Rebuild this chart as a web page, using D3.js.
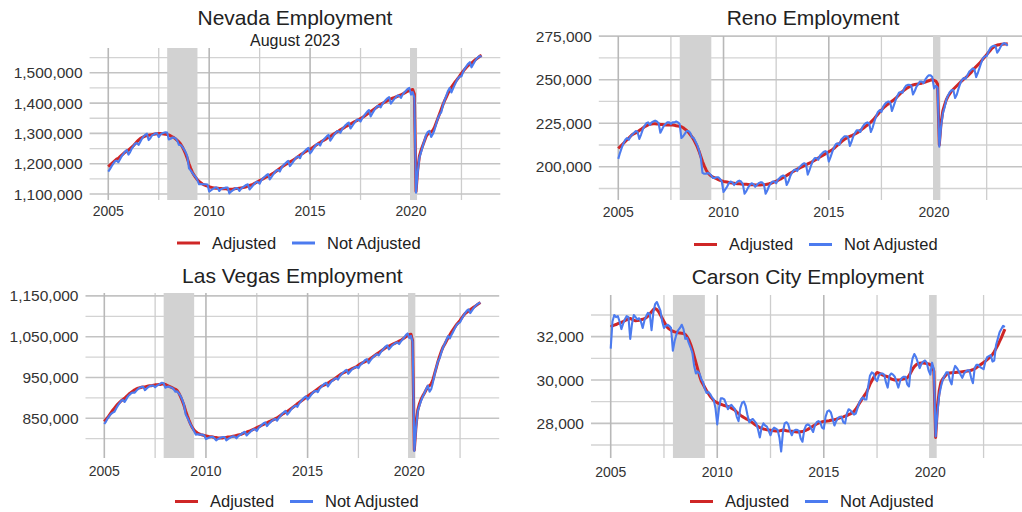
<!DOCTYPE html>
<html><head><meta charset="utf-8">
<script src="https://cdn.jsdelivr.net/npm/d3@7"></script>
<style>
body{margin:0;background:#fff}
svg{display:block}
text{font-family:"Liberation Sans",Arial,Helvetica,sans-serif}
</style>
</head><body>
<svg id="chart" width="1022" height="512"></svg>
<script>
// Monthly observations, Jan 2005 .. Jul 2023
const startYear = 2005;
const xTicks = [2005, 2010, 2015, 2020];
const xMinorTicks = [2007.5, 2012.5, 2017.5, 2022.5];
const recessions = [[2007.92, 2009.42], [2019.95, 2020.3]];
const seriesNames = ["Adjusted", "Not Adjusted"];

// Nevada (thousands of jobs)
const nevadaAdj = [
1190,1195,1200,1205,1210,1215,1218,1223,1228,1233,1238,1242,
1245,1250,1255,1260,1266,1272,1278,1283,1286,1289,1291,1293,
1294,1295,1296,1297,1298,1299,1300,1300,1299,1298,1297,1296,
1295,1292,1289,1286,1282,1277,1272,1265,1256,1245,1232,1217,
1200,1185,1172,1162,1154,1147,1141,1137,1133,1130,1128,1126,
1124,1122,1121,1120,1119,1119,1118,1118,1117,1117,1117,1116,
1116,1116,1116,1117,1118,1118,1119,1120,1121,1122,1124,1126,
1128,1130,1132,1135,1138,1141,1144,1147,1150,1153,1156,1159,
1162,1165,1168,1172,1176,1180,1184,1188,1192,1196,1199,1202,
1206,1209,1212,1216,1220,1224,1228,1232,1235,1239,1242,1245,
1248,1251,1255,1259,1263,1267,1270,1274,1277,1280,1284,1287,
1290,1294,1298,1301,1305,1308,1312,1315,1318,1322,1325,1328,
1331,1334,1337,1340,1343,1346,1349,1352,1356,1360,1364,1368,
1372,1376,1380,1384,1388,1392,1396,1399,1402,1405,1408,1411,
1414,1416,1418,1420,1422,1425,1427,1430,1433,1436,1439,1441,
1443,1445,1430,1108,1180,1225,1245,1260,1275,1290,1298,1302,
1305,1310,1320,1335,1350,1365,1380,1395,1408,1420,1432,1443,
1452,1460,1468,1475,1482,1490,1498,1505,1512,1518,1524,1528,
1532,1537,1542,1546,1550,1555,1558];
const nevadaNsa = [
1174,1182,1192,1200,1208,1210,1205,1215,1225,1232,1240,1245,
1230,1238,1250,1258,1266,1268,1262,1272,1282,1290,1296,1299,
1278,1284,1293,1296,1300,1300,1288,1296,1300,1302,1304,1303,
1280,1282,1286,1286,1284,1276,1262,1262,1256,1248,1238,1224,
1185,1178,1170,1162,1156,1146,1132,1133,1132,1132,1132,1131,
1108,1112,1116,1119,1122,1120,1110,1116,1118,1120,1121,1121,
1102,1108,1112,1116,1120,1118,1110,1118,1122,1126,1130,1132,
1115,1121,1128,1134,1140,1140,1134,1145,1152,1157,1162,1166,
1148,1156,1164,1171,1178,1179,1174,1186,1194,1200,1205,1209,
1192,1199,1207,1215,1222,1224,1218,1230,1237,1243,1248,1252,
1234,1241,1250,1258,1265,1266,1260,1272,1279,1285,1291,1295,
1276,1284,1293,1300,1307,1307,1302,1313,1320,1327,1332,1336,
1316,1324,1332,1339,1346,1345,1339,1350,1358,1365,1372,1377,
1356,1366,1375,1383,1390,1390,1386,1397,1404,1410,1416,1420,
1398,1406,1413,1419,1425,1424,1417,1428,1435,1441,1447,1450,
1428,1436,1418,1104,1172,1220,1238,1258,1276,1295,1305,1308,
1288,1298,1312,1332,1350,1362,1370,1393,1410,1425,1440,1450,
1435,1448,1460,1472,1482,1488,1488,1503,1514,1522,1530,1535,
1518,1528,1538,1546,1552,1555,1553];

// Reno (thousands of jobs)
const renoAdj = [
210.5,211.5,212.5,213.5,214.5,215.5,216.5,217.5,218.5,219.0,219.5,220.0,
220.8,221.5,222.3,223.0,223.5,224.0,224.4,224.6,224.7,224.7,224.6,224.5,
224.3,224.2,224.1,224.0,224.0,224.0,224.0,224.0,223.8,223.6,223.4,223.2,
223.0,222.4,221.6,220.8,219.8,218.5,217.2,215.6,213.6,211.5,209.0,206.0,
203.0,200.5,198.3,196.6,195.5,194.7,194.1,193.6,193.1,192.6,192.2,191.9,
191.6,191.4,191.2,191.0,190.8,190.6,190.5,190.4,190.3,190.2,190.1,190.0,
190.0,189.9,189.8,189.7,189.6,189.6,189.5,189.5,189.5,189.5,189.6,189.7,
189.8,190.0,190.2,190.5,190.9,191.3,191.7,192.2,192.7,193.2,193.8,194.4,
195.0,195.6,196.2,196.8,197.4,198.0,198.6,199.1,199.6,200.1,200.6,201.1,
201.6,202.1,202.6,203.2,203.8,204.4,205.0,205.6,206.2,206.8,207.4,208.0,
208.6,209.2,209.8,210.6,211.5,212.4,213.3,214.2,215.0,215.8,216.4,217.0,
217.4,217.8,218.3,218.8,219.4,220.0,220.8,221.6,222.4,223.2,224.0,224.8,
225.6,226.6,227.8,229.0,230.2,231.4,232.6,233.6,234.6,235.4,236.2,237.0,
237.6,238.4,239.2,240.2,241.2,242.2,243.2,244.0,244.8,245.4,246.0,246.6,
247.0,247.2,247.4,247.6,247.8,248.0,248.3,248.6,249.0,249.4,249.8,250.0,
249.6,249.2,247.5,212.5,225.0,232.0,235.5,238.5,240.5,242.0,243.5,244.5,
245.5,246.5,247.5,248.5,249.5,250.5,251.2,252.0,253.0,254.0,255.2,256.5,
257.5,258.5,259.5,260.8,262.0,263.2,264.4,265.6,266.8,268.0,268.8,269.5,
269.9,270.1,270.3,270.4,270.5,270.5,270.6];
const renoNsa = [
204.5,208.0,211.0,213.5,215.5,216.5,215.5,217.5,218.5,219.5,220.5,220.0,
216.0,218.5,221.5,223.5,225.0,225.5,224.0,225.5,226.0,226.5,226.0,225.0,
219.5,221.5,223.5,224.5,225.5,225.5,224.5,225.5,225.5,226.0,225.5,224.5,
216.5,217.5,219.0,220.5,220.5,219.5,217.0,216.5,214.5,212.5,209.5,205.5,
196.5,196.0,196.0,196.5,196.0,195.0,193.5,193.5,194.0,194.0,193.0,191.5,
185.5,187.0,188.5,190.5,191.5,191.0,189.5,190.5,191.5,192.0,191.5,190.0,
184.5,186.0,188.0,189.5,190.5,190.0,188.5,189.5,190.5,191.0,191.0,190.0,
184.5,186.5,189.0,190.5,191.5,191.5,190.5,192.5,193.5,194.5,195.0,194.5,
189.5,191.5,194.5,196.5,198.0,198.5,197.5,199.5,200.5,201.5,202.0,201.5,
195.5,198.0,201.0,203.5,205.0,205.0,204.0,206.5,207.5,208.5,209.0,208.5,
203.0,205.5,208.5,211.0,213.0,213.5,212.5,215.5,216.5,217.5,217.5,217.0,
212.0,214.5,217.5,219.5,221.0,221.0,220.0,222.5,224.0,225.0,225.5,225.0,
220.0,222.5,226.0,229.0,231.5,232.5,231.5,234.5,236.0,237.0,237.5,237.0,
232.0,235.0,238.0,240.5,242.5,243.0,242.5,245.0,246.5,247.0,247.0,246.5,
241.5,243.5,246.0,247.5,249.0,249.0,248.0,250.0,251.5,252.5,252.5,251.5,
245.0,246.5,245.5,211.5,223.0,230.5,234.0,238.5,241.0,243.0,244.0,244.0,
239.5,241.5,245.0,248.0,250.0,251.0,250.5,252.5,254.5,255.5,256.5,256.0,
251.5,254.0,257.0,260.0,262.5,263.5,263.5,266.0,268.0,269.0,269.5,269.5,
265.5,267.0,269.0,270.5,271.0,270.5,269.5];

// Las Vegas (thousands of jobs)
const lasVegasAdj = [
842,847,852,858,864,870,875,880,885,889,893,896,
899,903,907,911,914,917,920,922,924,925,926,927,
927,928,929,930,930,931,932,932,933,933,934,934,
933,931,929,927,925,923,921,918,912,903,893,882,
868,856,845,835,827,821,817,814,812,810,809,808,
807,806,805,805,804,803,803,802,802,802,802,803,
803,804,804,805,806,807,808,809,810,811,813,815,
816,818,819,821,823,825,827,829,831,833,835,837,
839,841,843,845,847,849,851,854,857,860,862,865,
867,870,873,876,879,882,886,889,892,895,898,901,
904,907,910,913,916,919,922,925,928,930,932,934,
936,939,942,944,947,950,953,956,959,961,963,965,
967,969,971,973,975,977,980,983,985,987,989,991,
993,996,999,1002,1005,1008,1011,1014,1017,1020,1023,1025,
1027,1029,1031,1033,1035,1037,1039,1041,1044,1047,1050,1053,
1055,1056,1040,772,830,870,885,897,905,912,920,928,
930,935,945,960,975,990,1003,1015,1025,1032,1040,1048,
1055,1062,1068,1074,1080,1085,1090,1096,1102,1107,1110,1113,
1116,1119,1122,1125,1128,1131,1134];
const lasVegasNsa = [
836,842,850,856,861,864,866,874,881,887,893,895,
890,897,904,908,912,913,913,918,922,925,927,927,
919,923,927,929,930,930,926,930,932,935,937,936,
925,927,928,926,925,921,915,916,911,905,896,884,
860,852,843,834,827,818,810,811,810,810,810,808,
799,801,803,804,805,801,796,799,801,803,804,804,
796,799,802,804,806,805,801,806,809,812,815,817,
808,812,816,820,823,823,819,826,830,834,838,840,
831,836,840,844,847,848,844,851,856,861,865,868,
859,864,870,875,879,881,878,886,891,896,901,904,
896,901,907,912,916,917,914,922,927,931,935,937,
928,934,940,943,947,948,945,953,958,962,966,969,
959,964,969,972,975,976,973,980,984,988,993,995,
985,991,997,1001,1005,1007,1004,1011,1016,1021,1026,1029,
1019,1024,1029,1032,1035,1036,1032,1038,1043,1048,1054,1058,
1047,1052,1038,770,826,866,880,893,903,912,922,930,
915,922,938,958,975,990,998,1012,1024,1033,1043,1052,
1046,1055,1063,1071,1079,1083,1085,1094,1101,1108,1114,1117,
1108,1114,1120,1125,1129,1132,1133];

// Carson City (jobs)
const carsonAdj = [
32450,32500,32530,32560,32600,32630,32660,32700,32740,32780,32810,32840,
32800,32760,32730,32740,32760,32780,32800,32830,32880,32950,33050,33150,
33250,33300,33250,33150,33000,32850,32700,32550,32420,32350,32300,32250,
32220,32200,32180,32170,32160,32150,32100,32000,31850,31650,31400,31100,
30800,30500,30200,29950,29800,29650,29500,29380,29250,29150,29050,29000,
28950,28900,28880,28850,28820,28800,28780,28750,28700,28650,28600,28520,
28450,28380,28320,28270,28220,28180,28140,28080,28020,27960,27900,27850,
27800,27770,27740,27720,27700,27690,27680,27670,27660,27650,27640,27650,
27670,27690,27680,27660,27650,27640,27630,27620,27610,27600,27600,27610,
27620,27650,27680,27720,27770,27820,27870,27920,27970,28010,28040,28070,
28080,28100,28110,28120,28140,28150,28170,28190,28220,28250,28280,28300,
28330,28360,28400,28440,28480,28550,28650,28780,28920,29050,29180,29300,
29420,29600,29800,29950,30100,30250,30350,30320,30280,30240,30200,30180,
30150,30100,30050,30020,30000,30000,30000,30010,30030,30050,30070,30100,
30200,30350,30500,30620,30700,30750,30770,30780,30780,30770,30760,30740,
30700,30650,30400,27350,28700,29500,29900,30050,30150,30250,30300,30320,
30330,30340,30350,30360,30360,30370,30380,30390,30400,30410,30430,30450,
30480,30520,30570,30630,30690,30750,30810,30870,30940,31010,31090,31180,
31300,31450,31600,31780,31950,32150,32350];
const carsonNsa = [
31450,32700,33000,32900,32950,32700,32350,32600,32800,32950,32900,31900,
32600,33000,32900,32800,32850,32700,32400,32750,32950,33100,33050,32300,
33100,33500,33600,33400,33200,32700,32400,32500,32550,32500,32400,31350,
31800,32100,32300,32400,32550,32350,31900,31950,31700,31500,31250,30650,
30300,30400,30300,30050,29900,29600,29400,29450,29350,29200,29100,28700,
27950,28700,29150,29150,29100,28900,28650,28800,28850,28750,28650,28300,
28100,28700,28950,29000,28800,28400,28050,28150,28200,28100,28000,27700,
27350,27800,28000,27900,27850,27650,27450,27700,27800,27750,27700,27350,
26700,27600,28000,28050,27950,27650,27450,27650,27700,27700,27650,27300,
27150,27700,27900,27950,27900,27750,27600,27900,28050,28100,28050,27800,
27750,28300,28550,28600,28500,28200,27900,28100,28250,28300,28300,28050,
28000,28450,28650,28600,28500,28400,28450,28700,28950,29100,29200,29100,
29100,29700,30200,30350,30300,30050,29950,30200,30300,30300,30250,29900,
29650,30200,30300,30250,30150,29900,29650,29950,30100,30150,30150,29800,
29700,30550,31000,31200,31050,30800,30550,30750,30850,30900,30800,30450,
30250,30800,30500,27400,28500,29300,29700,30000,30200,30350,30350,30000,
29800,30400,30650,30550,30400,30250,30100,30300,30400,30450,30450,30100,
29850,30550,30700,30700,30600,30550,30500,30850,31050,31100,31150,30850,
30900,31600,31900,32200,32350,32500,32450];

const nevadaYTicks = [1100000, 1200000, 1300000, 1400000, 1500000];
const nevadaYMinor = [1150000, 1250000, 1350000, 1450000, 1550000];
const renoYTicks = [200000, 225000, 250000, 275000];
const renoYMinor = [187500, 212500, 237500, 262500];
const lasVegasYTicks = [850000, 950000, 1050000, 1150000];
const lasVegasYMinor = [800000, 900000, 1000000, 1100000];
const carsonYTicks = [28000, 30000, 32000];
const carsonYMinor = [27000, 29000, 31000, 33000];

const colors = {adj: "#cf2626", nsa: "#4c7bef"};

const panels = [
  {title: "Nevada Employment", subtitle: "August 2023", adj: nevadaAdj, nsa: nevadaNsa, unit: 1000,
   yTicks: nevadaYTicks, yMinor: nevadaYMinor, yDomain: [1080200, 1581800],
   box: {l: 89.6, r: 500.3, t: 48, b: 200}, titleY: 25, subY: 46, xLabY: 216, legX: 177, legY: 243},
  {title: "Reno Employment", adj: renoAdj, nsa: renoNsa, unit: 1000,
   yTicks: renoYTicks, yMinor: renoYMinor, yDomain: [180900, 275100],
   box: {l: 598.8, r: 1027.2, t: 36, b: 200}, titleY: 25, xLabY: 216.5, legX: 694, legY: 244.5},
  {title: "Las Vegas Employment", adj: lasVegasAdj, nsa: lasVegasNsa, unit: 1000,
   yTicks: lasVegasYTicks, yMinor: lasVegasYMinor, yDomain: [752700, 1157100],
   box: {l: 85.5, r: 499.2, t: 293, b: 458}, titleY: 282.5, xLabY: 476, legX: 175, legY: 501.5},
  {title: "Carson City Employment", adj: carsonAdj, nsa: carsonNsa, unit: 1,
   yTicks: carsonYTicks, yMinor: carsonYMinor, yDomain: [26400, 33923],
   box: {l: 591, r: 1024.6, t: 295, b: 458}, titleY: 284, xLabY: 476.5, legX: 690, legY: 501.5}
];

const svg = d3.select("#chart");
const fmt = d3.format(",");
const nMonths = nevadaAdj.length;
const xExtent = [startYear, startYear + (nMonths - 1) / 12];
const pad = (xExtent[1] - xExtent[0]) * 0.05;

panels.forEach(p => {
  const g = svg.append("g");
  const x = d3.scaleLinear().domain([xExtent[0] - pad, xExtent[1] + pad]).range([p.box.l, p.box.r]);
  const y = d3.scaleLinear().domain(p.yDomain).range([p.box.b, p.box.t]);

  // minor grid
  g.selectAll(".ymin").data(p.yMinor).join("line")
    .attr("x1", p.box.l).attr("x2", p.box.r).attr("y1", d => y(d)).attr("y2", d => y(d))
    .attr("stroke", "#d3d3d3").attr("stroke-width", 1.3);
  g.selectAll(".xmin").data(xMinorTicks).join("line")
    .attr("x1", d => x(d)).attr("x2", d => x(d)).attr("y1", p.box.t).attr("y2", p.box.b)
    .attr("stroke", "#cdcdcd").attr("stroke-width", 1.3);
  // major grid
  g.selectAll(".ymaj").data(p.yTicks).join("line")
    .attr("x1", p.box.l).attr("x2", p.box.r).attr("y1", d => y(d)).attr("y2", d => y(d))
    .attr("stroke", "#c3c3c3").attr("stroke-width", 1.6);
  g.selectAll(".xmaj").data(xTicks).join("line")
    .attr("x1", d => x(d)).attr("x2", d => x(d)).attr("y1", p.box.t).attr("y2", p.box.b)
    .attr("stroke", "#b8b8b8").attr("stroke-width", 1.6);

  // recessions
  g.selectAll(".rec").data(recessions).join("rect")
    .attr("x", d => x(d[0])).attr("width", d => x(d[1]) - x(d[0]))
    .attr("y", p.box.t).attr("height", p.box.b - p.box.t)
    .attr("fill", "#d2d2d2");

  const line = d3.line().x((d, i) => x(startYear + i / 12)).y(d => y(d * p.unit));
  g.append("path").datum(p.adj).attr("d", line).attr("fill", "none")
    .attr("stroke", colors.adj).attr("stroke-width", 3).attr("stroke-linejoin", "round");
  g.append("path").datum(p.nsa).attr("d", line).attr("fill", "none")
    .attr("stroke", colors.nsa).attr("stroke-width", 2.1).attr("stroke-linejoin", "round");

  // y labels
  g.selectAll(".ylab").data(p.yTicks).join("text")
    .attr("x", p.box.l - 7).attr("y", d => y(d)).attr("dy", "0.36em")
    .attr("text-anchor", "end").attr("font-size", 15.5).attr("fill", "#333")
    .text(d => fmt(d));
  // x labels
  g.selectAll(".xlab").data(xTicks).join("text")
    .attr("x", d => x(d)).attr("y", p.xLabY)
    .attr("text-anchor", "middle").attr("font-size", 14).attr("fill", "#333")
    .text(d => d);

  const cx = (p.box.l + p.box.r) / 2;
  g.append("text").attr("x", cx).attr("y", p.titleY).attr("text-anchor", "middle")
    .attr("font-size", 21).attr("fill", "#222").text(p.title);
  if (p.subtitle) {
    g.append("text").attr("x", cx).attr("y", p.subY).attr("text-anchor", "middle")
      .attr("font-size", 16).attr("fill", "#222").text(p.subtitle);
  }

  // legend
  const lg = g.append("g").attr("transform", `translate(${p.legX},${p.legY})`);
  const items = [{name: seriesNames[0], c: colors.adj, k: 0, t: 35}, {name: seriesNames[1], c: colors.nsa, k: 115, t: 150}];
  items.forEach(it => {
    lg.append("line").attr("x1", it.k).attr("x2", it.k + 23).attr("y1", 0).attr("y2", 0)
      .attr("stroke", it.c).attr("stroke-width", 3);
    lg.append("text").attr("x", it.t).attr("y", 0).attr("dy", "0.36em")
      .attr("font-size", 16.5).attr("fill", "#222").text(it.name);
  });
});
</script>
</body></html>
